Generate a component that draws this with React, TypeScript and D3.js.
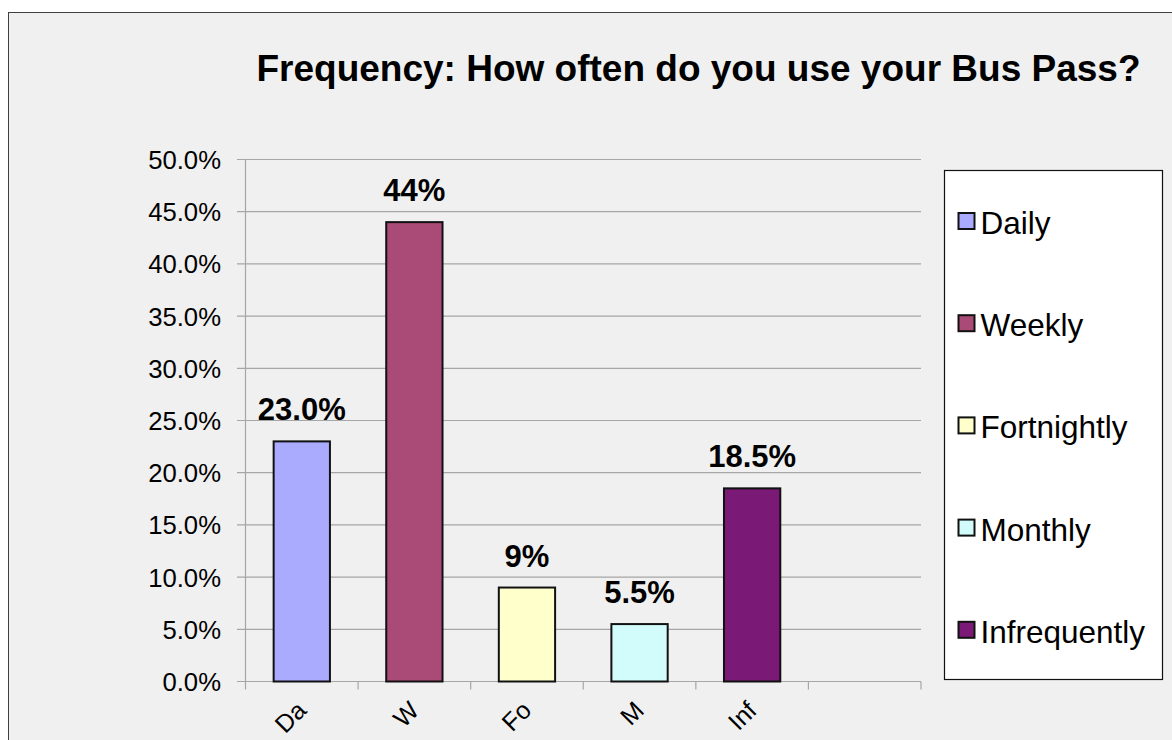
import React from "react";
import * as d3 from "d3";

// Survey answers: how often the bus pass is used
const categories = ["Da", "W", "Fo", "M", "Inf"];
const legendNames = ["Daily", "Weekly", "Fortnightly", "Monthly", "Infrequently"];
const shares = [23.0, 44, 9, 5.5, 18.5];
const shareLabels = ["23.0%", "44%", "9%", "5.5%", "18.5%"];
const barColors = ["#aaaaff", "#aa4a77", "#ffffcc", "#d2fcfc", "#7a1a76"];
const yTicks = [0, 5, 10, 15, 20, 25, 30, 35, 40, 45, 50];
// the category axis keeps one trailing empty slot
const axisSlots = [...categories, ""];

const W = 1172;
const H = 740;
const FONT = "'Liberation Sans', Arial, Helvetica, sans-serif";

export default function App() {
  const plot = { left: 245.5, right: 921, top: 159.5, bottom: 681.5 };

  const x = d3
    .scaleBand<string>()
    .domain(axisSlots.map((_, i) => String(i)))
    .range([plot.left, plot.right])
    .paddingInner(0.5)
    .paddingOuter(0.25);
  const step = x.step();

  const y = d3.scaleLinear().domain([0, 50]).range([plot.bottom, plot.top]);
  const fmt = (v: number) => d3.format(".1f")(v) + "%";

  const slotEdges = d3.range(axisSlots.length + 1).map((i) => plot.left + i * step);

  const legend = { x: 944.5, y: 170.5, w: 218, h: 509, first: 234, gap: 102.2 };

  return (
    <svg
      width={W}
      height={H}
      viewBox={`0 0 ${W} ${H}`}
      style={{ position: "absolute", left: 0, top: 0, display: "block" }}
      fontFamily={FONT}
    >
      <rect x={0} y={0} width={W} height={H} fill="#ffffff" />
      <rect x={8.5} y={12.5} width={W + 10} height={H + 10} fill="#f0f0f0" stroke="#404040" strokeWidth={1} />

      {/* title */}
      <text x={698.5} y={81} textAnchor="middle" fontSize={37} fontWeight="bold" fill="#000">
        Frequency: How often do you use your Bus Pass?
      </text>

      {/* horizontal gridlines and value axis */}
      {yTicks.map((t) => (
        <g key={t}>
          <line x1={plot.left - 8.5} x2={plot.right} y1={y(t)} y2={y(t)} stroke="#a6a6a6" strokeWidth={1.2} />
          <text x={221} y={y(t) + 9.5} textAnchor="end" fontSize={25.7} fill="#000">
            {fmt(t)}
          </text>
        </g>
      ))}
      <line x1={plot.left} x2={plot.left} y1={plot.top} y2={plot.bottom} stroke="#a6a6a6" strokeWidth={1.2} />

      {/* category axis */}
      <line x1={plot.left} x2={plot.right} y1={plot.bottom} y2={plot.bottom} stroke="#a6a6a6" strokeWidth={1.2} />
      {slotEdges.map((ex, i) => (
        <line key={i} x1={ex} x2={ex} y1={plot.bottom} y2={plot.bottom + 8} stroke="#a6a6a6" strokeWidth={1.2} />
      ))}
      {categories.map((c, i) => {
        const cx = (x(String(i)) as number) + x.bandwidth() / 2;
        const px = cx + 6;
        const py = 712;
        return (
          <text
            key={c}
            x={px}
            y={py}
            textAnchor="end"
            fontSize={25}
            fill="#000"
            transform={`rotate(-45 ${px} ${py})`}
          >
            {c}
          </text>
        );
      })}

      {/* bars */}
      {shares.map((v, i) => (
        <rect
          key={i}
          x={x(String(i)) as number}
          y={y(v)}
          width={x.bandwidth()}
          height={y(0) - y(v)}
          fill={barColors[i]}
          stroke="#111"
          strokeWidth={2}
        />
      ))}

      {/* value labels */}
      {shares.map((v, i) => (
        <text
          key={i}
          x={(x(String(i)) as number) + x.bandwidth() / 2}
          y={y(v) - 21}
          textAnchor="middle"
          fontSize={31}
          fontWeight="bold"
          fill="#000"
        >
          {shareLabels[i]}
        </text>
      ))}

      {/* legend */}
      <rect x={legend.x} y={legend.y} width={legend.w} height={legend.h} fill="#ffffff" stroke="#111" strokeWidth={1.2} />
      {legendNames.map((name, i) => {
        const base = legend.first + i * legend.gap;
        return (
          <g key={name}>
            <rect x={958.5} y={base - 21} width={16} height={16} fill={barColors[i]} stroke="#111" strokeWidth={2} />
            <text x={980.5} y={base} fontSize={31.5} fill="#000">
              {name}
            </text>
          </g>
        );
      })}
    </svg>
  );
}
